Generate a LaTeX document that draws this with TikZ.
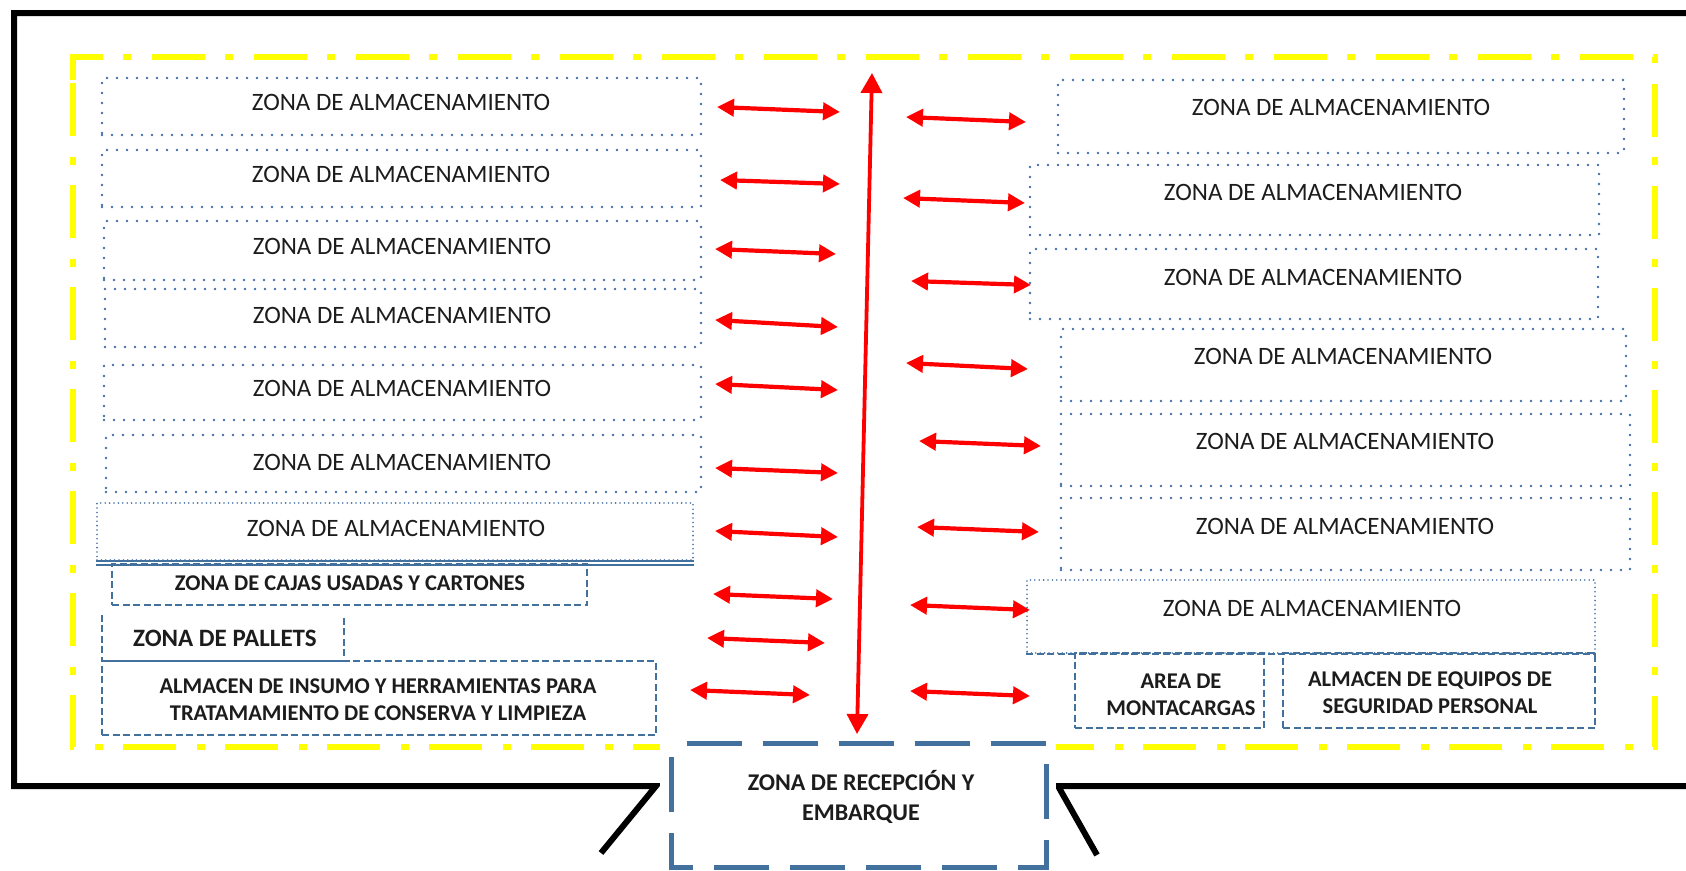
\documentclass[tikz,border=0pt]{standalone}
\usepackage{fontspec}
\setmainfont{Carlito}
\usetikzlibrary{arrows.meta}
\definecolor{zoneblue}{RGB}{68,112,168}
\definecolor{dashblue}{RGB}{65,113,156}
\definecolor{ink}{RGB}{28,28,28}
\definecolor{fenceyellow}{RGB}{255,255,0}

\begin{document}
\begin{tikzpicture}[x=1pt,y=-1pt,
  dotbox/.style={draw=zoneblue, line width=2.7pt, dash pattern=on 0pt off 10pt, line cap=round, inner sep=0pt},
  finedotbox/.style={draw=zoneblue, line width=1.8pt, dash pattern=on 0pt off 4.4pt, line cap=round, inner sep=0pt},
  dashbox/.style={draw=dashblue, line width=2.2pt, dash pattern=on 7pt off 3.5pt, inner sep=0pt},
  dashline/.style={draw=dashblue, line width=2.2pt, dash pattern=on 7pt off 3.5pt},
  plainbox/.style={inner sep=0pt},
  reglabel/.style={text=ink, font=\fontsize{25}{30}\selectfont, inner sep=0pt},
  boldlabel/.style={text=ink, font=\fontsize{22.5}{27}\selectfont\bfseries, align=center, inner sep=0pt},
  biglabel/.style={text=ink, font=\fontsize{25}{30}\selectfont\bfseries, align=center, inner sep=0pt},
  flow/.style={draw=red, line width=4.2pt, {Triangle[length=17pt,width=17pt]}-{Triangle[length=17pt,width=17pt]}},
  aisle/.style={draw=red, line width=3.8pt, {Triangle[length=20pt,width=21pt]}-{Triangle[length=20pt,width=21pt]}},
  wall/.style={draw=black, line width=6pt},
  fence/.style={draw=fenceyellow, line width=6pt, dash pattern=on 53pt off 20pt on 8pt off 21pt},
  dock/.style={draw=dashblue, line width=5pt, dash pattern=on 55pt off 21pt, dash phase=61pt},
]
\clip (0,0) rectangle (1686,870);
\useasboundingbox (0,0) rectangle (1686,870);

% building walls
\coordinate (wtr) at (1700,13);
\coordinate (wtl) at (14,13);
\coordinate (wbl) at (14,786);
\coordinate (wbm) at (656,786);
\coordinate (wdl) at (601,853);
\coordinate (wbn) at (1058,786);
\coordinate (wdr) at (1097,855);
\coordinate (wbr) at (1700,786);
\draw[wall, line join=miter] (wtr) -- (wtl) -- (wbl) -- (wbm) -- (wdl);
\draw[wall, line join=miter] (wbr) -- (wbn) -- (wdr);

% yellow safety boundary
\coordinate (f0) at (73,80);
\coordinate (f1) at (73,57);
\coordinate (f2) at (1655,57);
\coordinate (f3) at (1655,747);
\coordinate (f4) at (73,747);
\draw[fence] (f0) -- (f1) -- (f2) -- (f3) -- (f4) -- cycle;

% left storage rows
\node[dotbox, minimum width=599pt, minimum height=57pt] (z1) at (401.5,106.5) {};
\node[dotbox, minimum width=599pt, minimum height=57pt] (z2) at (401.5,178.5) {};
\node[dotbox, minimum width=597pt, minimum height=59pt] (z3) at (402.5,250.5) {};
\node[dotbox, minimum width=596pt, minimum height=58pt] (z4) at (403,318) {};
\node[dotbox, minimum width=597pt, minimum height=55pt] (z5) at (402.5,392.5) {};
\node[dotbox, minimum width=595pt, minimum height=57pt] (z6) at (403.5,463.5) {};
\node[finedotbox, minimum width=596pt, minimum height=57pt] (z7) at (395,531.5) {};
\node[reglabel] (t1) at (401,102) {ZONA DE ALMACENAMIENTO};
\node[reglabel] (t2) at (401,174) {ZONA DE ALMACENAMIENTO};
\node[reglabel] (t3) at (402,246) {ZONA DE ALMACENAMIENTO};
\node[reglabel] (t4) at (402,315) {ZONA DE ALMACENAMIENTO};
\node[reglabel] (t5) at (402,388) {ZONA DE ALMACENAMIENTO};
\node[reglabel] (t6) at (402,462) {ZONA DE ALMACENAMIENTO};
\node[reglabel] (t7) at (396,528) {ZONA DE ALMACENAMIENTO};
\draw[draw=dashblue, line width=1.8pt] (z7.south west) -- (z7.south east);
\draw[draw=dashblue, line width=1.8pt] ([yshift=-4pt]z7.south west) -- ([yshift=-4pt]z7.south east);

% boxes, pallets and supplies
\node[dashbox, minimum width=475pt, minimum height=41pt] (cajas) at (349.5,584.5) {};
\node[boldlabel] (tcajas) at (350,583) {ZONA DE CAJAS USADAS Y CARTONES};
\node[plainbox, minimum width=242pt, minimum height=46pt] (pallets) at (223,638) {};
\draw[dashline] (pallets.north west) -- (pallets.south west) -- (pallets.south east) -- (pallets.north east);
\node[biglabel] (tpallets) at (225,638) {ZONA DE PALLETS};
\node[dashbox, minimum width=554pt, minimum height=74pt] (insumo) at (379,698) {};
\node[boldlabel] (tinsumo) at (378,699.5) {ALMACEN DE INSUMO Y HERRAMIENTAS PARA\\TRATAMAMIENTO DE CONSERVA Y LIMPIEZA};

% right storage rows
\node[dotbox, minimum width=566pt, minimum height=73pt] (r1) at (1341,116.5) {};
\node[dotbox, minimum width=569pt, minimum height=70pt] (r2) at (1314.5,200) {};
\node[dotbox, minimum width=568pt, minimum height=70pt] (r3) at (1314,284) {};
\node[dotbox, minimum width=565pt, minimum height=72pt] (r4) at (1343.5,365) {};
\node[dotbox, minimum width=569pt, minimum height=72pt] (r5) at (1345.5,450) {};
\node[dotbox, minimum width=569pt, minimum height=72pt] (r6) at (1345.5,534) {};
\node[finedotbox, minimum width=568pt, minimum height=73pt] (r7) at (1311,616.5) {};
\node[reglabel] (s1) at (1341,107) {ZONA DE ALMACENAMIENTO};
\node[reglabel] (s2) at (1313,192) {ZONA DE ALMACENAMIENTO};
\node[reglabel] (s3) at (1313,277) {ZONA DE ALMACENAMIENTO};
\node[reglabel] (s4) at (1343,356) {ZONA DE ALMACENAMIENTO};
\node[reglabel] (s5) at (1345,441) {ZONA DE ALMACENAMIENTO};
\node[reglabel] (s6) at (1345,526) {ZONA DE ALMACENAMIENTO};
\node[reglabel] (s7) at (1312,608) {ZONA DE ALMACENAMIENTO};
\draw[dashline] (r7.south west) -- (r7.south east);

% forklift area and safety equipment store
\node[dashbox, minimum width=189pt, minimum height=75pt] (forklift) at (1169.5,690.5) {};
\node[boldlabel] (tforklift) at (1181,694.5) {AREA DE\\MONTACARGAS};
\node[dashbox, minimum width=312pt, minimum height=75pt] (epp) at (1439,690.5) {};
\node[boldlabel] (tepp) at (1430,692.5) {ALMACEN DE EQUIPOS DE\\SEGURIDAD PERSONAL};

% reception and shipping dock
\fill[white] (660,738) rectangle (1056,870);
\node[plainbox, minimum width=374pt, minimum height=123pt] (dock) at (859,805.5) {};
\draw[dock] (dock.north west) -- (dock.north east) -- (dock.south east) -- (dock.south west) -- cycle;
\node[biglabel, font=\fontsize{24}{30}\selectfont\bfseries] (tdock) at (861,797) {ZONA DE RECEPCIÓN Y\\EMBARQUE};

% material flow
\coordinate (a0) at (872,73);
\coordinate (b0) at (857,734);
\draw[aisle] (a0) -- (b0);
\foreach \n/\xa/\ya/\xb/\yb in {1/717/107/840/112, 2/720/180/840/184, 3/715/249/836/254,
  4/715/320/838/327, 5/715/384/838/390, 6/715/468/838/473, 7/715/531/838/537,
  8/713/594/833/599, 9/707/638/825/643, 10/690/690/810/695}{
  \coordinate (la\n) at (\xa,\ya);
  \coordinate (lb\n) at (\xb,\yb);
  \draw[flow] (la\n) -- (lb\n);
}
\foreach \n/\xa/\ya/\xb/\yb in {1/906/117/1026/122, 2/903/198/1025/203, 3/911/281/1031/285,
  4/906/363/1028/369, 5/919/441/1041/446, 6/917/527/1039/532, 7/910/605/1030/610,
  8/910/691/1030/696}{
  \coordinate (ra\n) at (\xa,\ya);
  \coordinate (rb\n) at (\xb,\yb);
  \draw[flow] (ra\n) -- (rb\n);
}
\end{tikzpicture}
\end{document}
